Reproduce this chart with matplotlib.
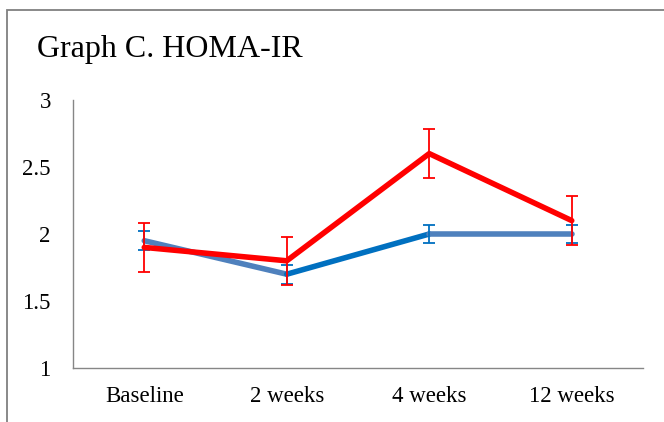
import matplotlib
matplotlib.use("Agg")
import matplotlib.pyplot as plt
from matplotlib.patches import Rectangle

# data
categories = ["Baseline", "2 weeks", "4 weeks", "12 weeks"]
blue_vals = [1.95, 1.70, 2.00, 2.00]
blue_err = [0.07, 0.07, 0.07, 0.07]
red_vals = [1.90, 1.80, 2.60, 2.10]
red_err = [0.18, 0.18, 0.18, 0.18]
yticks = [1, 1.5, 2, 2.5, 3]
ytick_labels = ["1", "1.5", "2", "2.5", "3"]

# blue line has per-segment colours in the original
blue_seg_colors = ["#4F81BD", "#0070C0", "#4F81BD"]
RED = "#FF0000"
BLUE_ERR = "#0070C0"
GRID = "#868686"

plt.rcParams["font.family"] = ["Liberation Serif", "DejaVu Serif"]

W, H = 664, 422
fig = plt.figure(figsize=(W / 100, H / 100), dpi=100)
ax = fig.add_axes([73 / W, 1 - 368 / H, (643 - 73) / W, (368 - 100) / H])

x = list(range(len(categories)))

# outer chart frame (cropped at right and bottom)
fig.patches.append(Rectangle((7 / W, -0.2), 1.2, 1 - 10 / H + 0.2,
                             transform=fig.transFigure, fill=False,
                             edgecolor="#808080", linewidth=1.3))

for i in range(len(x) - 1):
    ax.plot(x[i:i + 2], blue_vals[i:i + 2], color=blue_seg_colors[i],
            linewidth=4.0, solid_capstyle="round", solid_joinstyle="round", zorder=2)
ax.errorbar(x, blue_vals, yerr=blue_err, fmt="none", ecolor=BLUE_ERR,
            elinewidth=1.3, capsize=4.3, capthick=1.3, zorder=3)

ax.plot(x, red_vals, color=RED, linewidth=4.0, solid_capstyle="round",
        solid_joinstyle="round", zorder=4)
ax.errorbar(x, red_vals, yerr=red_err, fmt="none", ecolor=RED,
            elinewidth=1.3, capsize=4.3, capthick=1.3, zorder=5)

ax.set_xlim(-0.5, 3.5)
ax.set_ylim(1, 3)
ax.set_xticks(x)
ax.set_xticklabels(categories, fontsize=16.5)
ax.set_yticks(yticks)
ax.set_yticklabels(ytick_labels, fontsize=16.5)
ax.tick_params(length=0)
ax.tick_params(axis="y", pad=16)
ax.tick_params(axis="x", pad=13)

for side in ["top", "right"]:
    ax.spines[side].set_visible(False)
for side in ["left", "bottom"]:
    ax.spines[side].set_color(GRID)
    ax.spines[side].set_linewidth(1.0)

fig.text(37 / W, 1 - 57 / H, "Graph C. HOMA-IR", fontsize=23, va="baseline", ha="left")

fig.savefig("out.png", dpi=100)
